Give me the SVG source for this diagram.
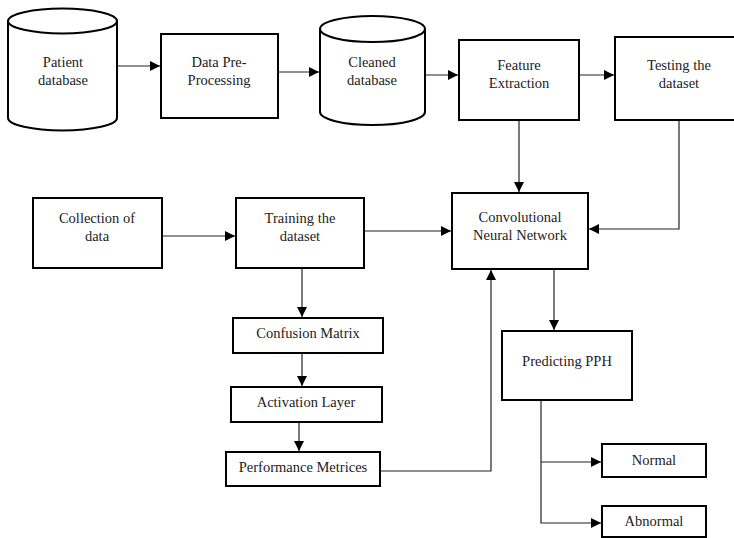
<svg xmlns="http://www.w3.org/2000/svg" width="734" height="538" viewBox="0 0 734 538">
<style>
.box{fill:#fff;stroke:#000;stroke-width:2}
.cyl{fill:#fff;stroke:#000;stroke-width:2}
.t{font-family:'Liberation Serif','DejaVu Serif',serif;font-size:14.5px;fill:#222;text-anchor:middle}
.c{fill:none;stroke:#222;stroke-width:1.2}
</style>
<defs>
<marker id="ah" viewBox="0 0 10 10" refX="10" refY="5" markerWidth="10" markerHeight="10" markerUnits="userSpaceOnUse" orient="auto">
<path d="M0,0 L10,5 L0,10 z" fill="#000"/>
</marker>
</defs>
<rect width="734" height="538" fill="#fff"/>
<g id="connectors">
<line class="c" x1="117" y1="66" x2="160" y2="66" marker-end="url(#ah)"/>
<line class="c" x1="278" y1="72" x2="319" y2="72" marker-end="url(#ah)"/>
<line class="c" x1="425" y1="75" x2="458" y2="75" marker-end="url(#ah)"/>
<line class="c" x1="579" y1="75" x2="614" y2="75" marker-end="url(#ah)"/>
<line class="c" x1="519" y1="120" x2="519" y2="192" marker-end="url(#ah)"/>
<polyline class="c" points="679,120 679,229 589,229" marker-end="url(#ah)"/>
<line class="c" x1="162" y1="236" x2="235" y2="236" marker-end="url(#ah)"/>
<line class="c" x1="364" y1="231" x2="451" y2="231" marker-end="url(#ah)"/>
<line class="c" x1="302" y1="268" x2="302" y2="317" marker-end="url(#ah)"/>
<line class="c" x1="302" y1="353" x2="302" y2="386" marker-end="url(#ah)"/>
<line class="c" x1="299" y1="422" x2="299" y2="451" marker-end="url(#ah)"/>
<polyline class="c" points="380,471 491,471 491,270" marker-end="url(#ah)"/>
<line class="c" x1="554" y1="269" x2="554" y2="330" marker-end="url(#ah)"/>
<polyline class="c" points="541,400 541,523 601,523" marker-end="url(#ah)"/>
<line class="c" x1="541" y1="462" x2="601" y2="462" marker-end="url(#ah)"/>
</g>
<g font-family="Liberation Serif, serif">
<g id="patient-db">
<path class="cyl" d="M8,21 L8,118 A54.5,12.5 0 0 0 117,118 L117,21 A54.5,12.5 0 0 0 8,21 A54.5,12.5 0 0 0 117,21"/>
<text class="t" x="63" y="67">Patient</text>
<text class="t" x="63" y="85">database</text>
</g>
<g id="preprocessing">
<rect class="box" x="161" y="34" width="117" height="84"/>
<text class="t" x="219" y="67">Data Pre-</text>
<text class="t" x="219" y="85">Processing</text>
</g>
<g id="cleaned-db">
<path class="cyl" d="M320,29 L320,112 A52.5,13 0 0 0 425,112 L425,29 A52.5,13 0 0 0 320,29 A52.5,13 0 0 0 425,29"/>
<text class="t" x="372" y="67">Cleaned</text>
<text class="t" x="372" y="85">database</text>
</g>
<g id="feature-extraction">
<rect class="box" x="459" y="40" width="120" height="80"/>
<text class="t" x="519" y="70">Feature</text>
<text class="t" x="519" y="88">Extraction</text>
</g>
<g id="testing">
<rect class="box" x="615" y="37" width="128" height="83"/>
<text class="t" x="679" y="70">Testing the</text>
<text class="t" x="679" y="88">dataset</text>
</g>
<g id="cnn">
<rect class="box" x="452" y="193" width="136" height="76"/>
<text class="t" x="520" y="222">Convolutional</text>
<text class="t" x="520" y="240">Neural Network</text>
</g>
<g id="collection">
<rect class="box" x="33" y="198" width="129" height="70"/>
<text class="t" x="97" y="223">Collection of</text>
<text class="t" x="97" y="241">data</text>
</g>
<g id="training">
<rect class="box" x="236" y="198" width="128" height="70"/>
<text class="t" x="300" y="223">Training the</text>
<text class="t" x="300" y="241">dataset</text>
</g>
<g id="confusion">
<rect class="box" x="233" y="318" width="150" height="35"/>
<text class="t" x="308" y="338">Confusion Matrix</text>
</g>
<g id="activation">
<rect class="box" x="231" y="387" width="151" height="35"/>
<text class="t" x="306" y="407">Activation Layer</text>
</g>
<g id="performance">
<rect class="box" x="226" y="452" width="154" height="34"/>
<text class="t" x="303" y="472">Performance Metrices</text>
</g>
<g id="predicting">
<rect class="box" x="502" y="331" width="130" height="69"/>
<text class="t" x="567" y="366">Predicting PPH</text>
</g>
<g id="normal">
<rect class="box" x="602" y="444" width="104" height="33"/>
<text class="t" x="654" y="465">Normal</text>
</g>
<g id="abnormal">
<rect class="box" x="602" y="506" width="104" height="31"/>
<text class="t" x="654" y="526">Abnormal</text>
</g>
</g>
</svg>
